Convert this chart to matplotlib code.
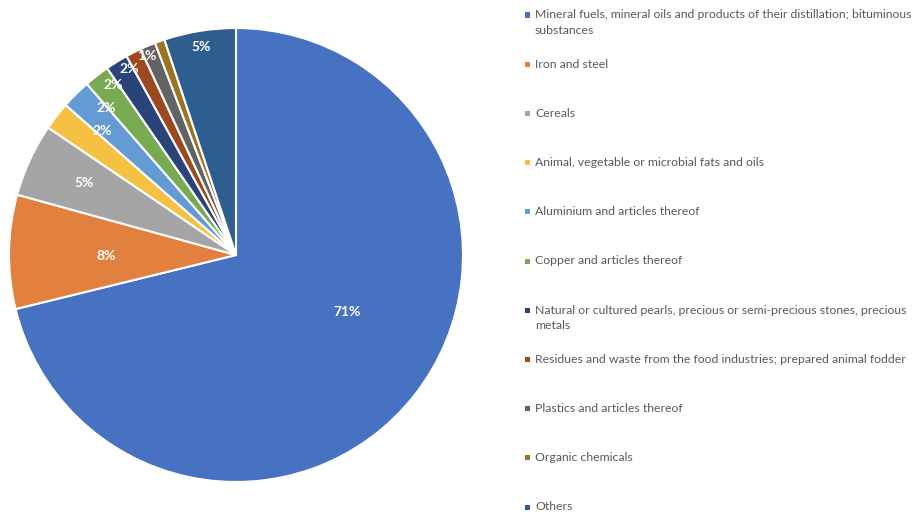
import numpy as np
import matplotlib
matplotlib.use("Agg")
import matplotlib.pyplot as plt
from matplotlib.patches import Rectangle

# Share of imports by product group (%)
categories = [
    "Mineral fuels, mineral oils and products of their distillation; bituminous\nsubstances",
    "Iron and steel",
    "Cereals",
    "Animal, vegetable or microbial fats and oils",
    "Aluminium and articles thereof",
    "Copper and articles thereof",
    "Natural or cultured pearls, precious or semi-precious stones, precious\nmetals",
    "Residues and waste from the food industries; prepared animal fodder",
    "Plastics and articles thereof",
    "Organic chemicals",
    "Others",
]
shares = [71.1, 8.1, 5.2, 2.0, 2.1, 1.8, 1.6, 1.1, 1.1, 0.7, 5.1]

colors = ["#4672C1", "#E2813F", "#A5A5A5", "#F5C143", "#659BD3", "#78AB51",
          "#2A4479", "#9A4A1E", "#636363", "#977522", "#2E5E8E"]

# Label placement (polar angle in degrees, radius fraction); None = no label
label_pos = [(-27.2, 0.55), (180.4, 0.57), (154.6, 0.74), (137.3, 0.805),
             (131.5, 0.864), (125.9, 0.925), (119.9, 0.945), None,
             (114.2, 0.96), None, (99.4, 0.93)]

W, H = 918, 516
fig = plt.figure(figsize=(W / 100, H / 100), dpi=100)
fig.patch.set_facecolor("white")

cx, cy, r = 236, 255, 227
ax = fig.add_axes([(cx - r) / W, (H - cy - r) / H, 2 * r / W, 2 * r / H])
wedges, _ = ax.pie(shares, colors=colors, startangle=90, counterclock=False,
                   radius=1.0, wedgeprops=dict(edgecolor="white", linewidth=1.5))
ax.set_xlim(-1, 1)
ax.set_ylim(-1, 1)
ax.set_aspect("equal")
ax.axis("off")

for val, pos in zip(shares, label_pos):
    if pos is None:
        continue
    ang, rf = pos
    x = rf * np.cos(np.radians(ang))
    y = rf * np.sin(np.radians(ang))
    ax.text(x, y, f"{val:.0f}%", ha="center", va="center", color="white",
            fontsize=10, fontweight="bold", family="Lato")

# Legend on the right
y0, dy, line_h = 15, 49.2, 15.5
for i, (lab, col) in enumerate(zip(categories, colors)):
    yy = y0 + i * dy
    fig.patches.append(Rectangle(((527 - 2.5) / W, (H - yy - 2.5) / H), 5 / W, 5 / H,
                                 transform=fig.transFigure, facecolor=col,
                                 edgecolor="none"))
    for k, line in enumerate(lab.split("\n")):
        fig.text(535 / W, (H - yy - k * line_h) / H, line, ha="left", va="center",
                 fontsize=8.8, color="#595959", family="Lato")

fig.savefig("out.png", dpi=100, facecolor="white")
